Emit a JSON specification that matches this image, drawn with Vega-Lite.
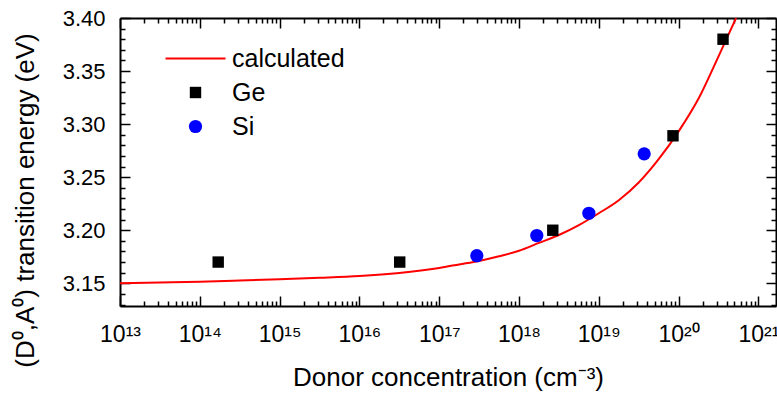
{
  "$schema": "https://vega.github.io/schema/vega-lite/v6.json",
  "width": 656,
  "height": 288,
  "autosize": {"type": "none"},
  "padding": {"left": 120, "top": 18, "right": 1, "bottom": 88},
  "background": "white",
  "config": {
    "view": {"stroke": null},
    "font": "Liberation Sans",
    "axis": {"grid": false, "tickColor": "black", "domainColor": "black", "labelColor": "black", "titleColor": "black", "tickWidth": 1.5, "domainWidth": 2, "labelFont": "Liberation Sans", "titleFont": "Liberation Sans", "titleFontWeight": "normal"}
  },
  "datasets": {
    "curve": [
      {"N": 1e13, "E": 3.1500, "series": "calculated"},
      {"N": 3.1623e13, "E": 3.1507, "series": "calculated"},
      {"N": 1e14, "E": 3.1515, "series": "calculated"},
      {"N": 3.1623e14, "E": 3.1526, "series": "calculated"},
      {"N": 1e15, "E": 3.1538, "series": "calculated"},
      {"N": 3.1623e15, "E": 3.1552, "series": "calculated"},
      {"N": 1e16, "E": 3.1569, "series": "calculated"},
      {"N": 3.1623e16, "E": 3.1598, "series": "calculated"},
      {"N": 1e17, "E": 3.1645, "series": "calculated"},
      {"N": 1.7783e17, "E": 3.1678, "series": "calculated"},
      {"N": 3.1623e17, "E": 3.1711, "series": "calculated"},
      {"N": 5.6234e17, "E": 3.1754, "series": "calculated"},
      {"N": 1e18, "E": 3.1807, "series": "calculated"},
      {"N": 1.7783e18, "E": 3.1881, "series": "calculated"},
      {"N": 3.1623e18, "E": 3.1955, "series": "calculated"},
      {"N": 5.6234e18, "E": 3.2048, "series": "calculated"},
      {"N": 1e19, "E": 3.2160, "series": "calculated"},
      {"N": 1.7783e19, "E": 3.2283, "series": "calculated"},
      {"N": 3.1623e19, "E": 3.2450, "series": "calculated"},
      {"N": 5.6234e19, "E": 3.2670, "series": "calculated"},
      {"N": 1e20, "E": 3.2932, "series": "calculated"},
      {"N": 1.7783e20, "E": 3.3241, "series": "calculated"},
      {"N": 3.1623e20, "E": 3.3639, "series": "calculated"},
      {"N": 5.2481e20, "E": 3.4000, "series": "calculated"}
    ],
    "ge": [
      {"N": 1.7e14, "E": 3.170, "series": "Ge"},
      {"N": 3.2e16, "E": 3.170, "series": "Ge"},
      {"N": 2.65e18, "E": 3.200, "series": "Ge"},
      {"N": 8.5e19, "E": 3.289, "series": "Ge"},
      {"N": 3.6e20, "E": 3.380, "series": "Ge"}
    ],
    "si": [
      {"N": 2.96e17, "E": 3.176, "series": "Si"},
      {"N": 1.67e18, "E": 3.195, "series": "Si"},
      {"N": 7.5e18, "E": 3.216, "series": "Si"},
      {"N": 3.7e19, "E": 3.272, "series": "Si"}
    ]
  },
  "resolve": {"axis": {"x": "independent", "y": "independent"}},
  "layer": [
    {
      "data": {"name": "curve"},
      "mark": {"type": "line", "strokeWidth": 2, "interpolate": "monotone", "clip": true},
      "encoding": {
        "x": {"field": "N", "type": "quantitative", "scale": {"type": "log", "domain": [1e13, 1.66e21], "nice": false},
          "axis": {"orient": "bottom", "values": [1e13, 1e14, 1e15, 1e16, 1e17, 1e18, 1e19, 1e20, 1e21],
            "labelExpr": "['10¹³','10¹⁴','10¹⁵','10¹⁶','10¹⁷','10¹⁸','10¹⁹','10²⁰','10²¹'][round(log(datum.value)/LN10) - 13]",
            "tickSize": -10, "labelPadding": 27, "labelFontSize": 23, "labelFlush": false, "labelOverlap": false,
            "title": "Donor concentration (cm⁻³)", "titleFontSize": 26, "titlePadding": 18}},
        "y": {"field": "E", "type": "quantitative", "scale": {"domain": [3.1286, 3.4], "nice": false, "zero": false},
          "axis": {"orient": "left", "values": [3.15, 3.2, 3.25, 3.3, 3.35, 3.4], "format": ".2f",
            "tickSize": -10, "labelPadding": 25, "labelFontSize": 22, "labelFlush": false, "labelOverlap": false,
            "title": "(D⁰,A⁰) transition energy (eV)", "titleFontSize": 26, "titleBaseline": "middle", "titleX": -95, "titleY": 182, "titleAngle": -90}},
        "color": {"field": "series", "type": "nominal",
          "scale": {"domain": ["calculated", "Ge", "Si"], "range": ["#ff0000", "#000000", "#0000ff"]},
          "legend": {"orient": "none", "legendX": 63, "legendY": 28, "title": null, "symbolSize": 175,
            "labelFontSize": 25, "labelFont": "Liberation Sans", "labelColor": "black", "labelOffset": 24, "rowPadding": 8, "padding": 0,
            "encode": {"symbols": {"update": {
              "shape": {"signal": "datum.value == 'calculated' ? 'stroke' : datum.value == 'Ge' ? 'square' : 'circle'"},
              "size": {"signal": "datum.value == 'calculated' ? 3600 : datum.value == 'Ge' ? 130 : 175"},
              "fill": {"signal": "datum.value == 'calculated' ? '#ff0000' : datum.value == 'Ge' ? '#000000' : '#0000ff'"},
              "stroke": {"signal": "datum.value == 'calculated' ? '#ff0000' : datum.value == 'Ge' ? '#000000' : '#0000ff'"},
              "strokeWidth": {"signal": "datum.value == 'calculated' ? 2 : 0"},
              "opacity": {"value": 1}, "fillOpacity": {"value": 1}, "strokeOpacity": {"value": 1}}}}}
        }
      }
    },
    {
      "data": {"name": "ge"},
      "mark": {"type": "point", "shape": "square", "filled": true, "size": 130, "opacity": 1},
      "encoding": {
        "x": {"field": "N", "type": "quantitative",
          "axis": {"orient": "bottom", "values": [2e13,3e13,4e13,5e13,6e13,7e13,8e13,9e13,2e14,3e14,4e14,5e14,6e14,7e14,8e14,9e14,2e15,3e15,4e15,5e15,6e15,7e15,8e15,9e15,2e16,3e16,4e16,5e16,6e16,7e16,8e16,9e16,2e17,3e17,4e17,5e17,6e17,7e17,8e17,9e17,2e18,3e18,4e18,5e18,6e18,7e18,8e18,9e18,2e19,3e19,4e19,5e19,6e19,7e19,8e19,9e19,2e20,3e20,4e20,5e20,6e20,7e20,8e20,9e20],
            "tickSize": -5, "labels": false, "domain": false, "title": null}},
        "y": {"field": "E", "type": "quantitative",
          "axis": {"orient": "left", "values": [3.13,3.14,3.16,3.17,3.18,3.19,3.21,3.22,3.23,3.24,3.26,3.27,3.28,3.29,3.31,3.32,3.33,3.34,3.36,3.37,3.38,3.39],
            "tickSize": -5, "labels": false, "domain": false, "title": null}},
        "color": {"field": "series", "type": "nominal", "legend": null}
      }
    },
    {
      "data": {"name": "si"},
      "mark": {"type": "point", "shape": "circle", "filled": true, "size": 175, "opacity": 1},
      "encoding": {
        "x": {"field": "N", "type": "quantitative",
          "axis": {"orient": "top", "values": [1e13, 1e14, 1e15, 1e16, 1e17, 1e18, 1e19, 1e20, 1e21], "tickSize": -10, "labels": false, "title": null}},
        "y": {"field": "E", "type": "quantitative",
          "axis": {"orient": "right", "values": [3.15, 3.2, 3.25, 3.3, 3.35, 3.4], "tickSize": -10, "labels": false, "title": null}},
        "color": {"field": "series", "type": "nominal", "legend": null}
      }
    },
    {
      "data": {"name": "ge"},
      "mark": {"type": "point", "opacity": 0},
      "encoding": {
        "x": {"field": "N", "type": "quantitative",
          "axis": {"orient": "top", "values": [2e13,3e13,4e13,5e13,6e13,7e13,8e13,9e13,2e14,3e14,4e14,5e14,6e14,7e14,8e14,9e14,2e15,3e15,4e15,5e15,6e15,7e15,8e15,9e15,2e16,3e16,4e16,5e16,6e16,7e16,8e16,9e16,2e17,3e17,4e17,5e17,6e17,7e17,8e17,9e17,2e18,3e18,4e18,5e18,6e18,7e18,8e18,9e18,2e19,3e19,4e19,5e19,6e19,7e19,8e19,9e19,2e20,3e20,4e20,5e20,6e20,7e20,8e20,9e20],
            "tickSize": -5, "labels": false, "domain": false, "title": null}},
        "y": {"field": "E", "type": "quantitative",
          "axis": {"orient": "right", "values": [3.13,3.14,3.16,3.17,3.18,3.19,3.21,3.22,3.23,3.24,3.26,3.27,3.28,3.29,3.31,3.32,3.33,3.34,3.36,3.37,3.38,3.39],
            "tickSize": -5, "labels": false, "domain": false, "title": null}}
      }
    }
  ]
}
